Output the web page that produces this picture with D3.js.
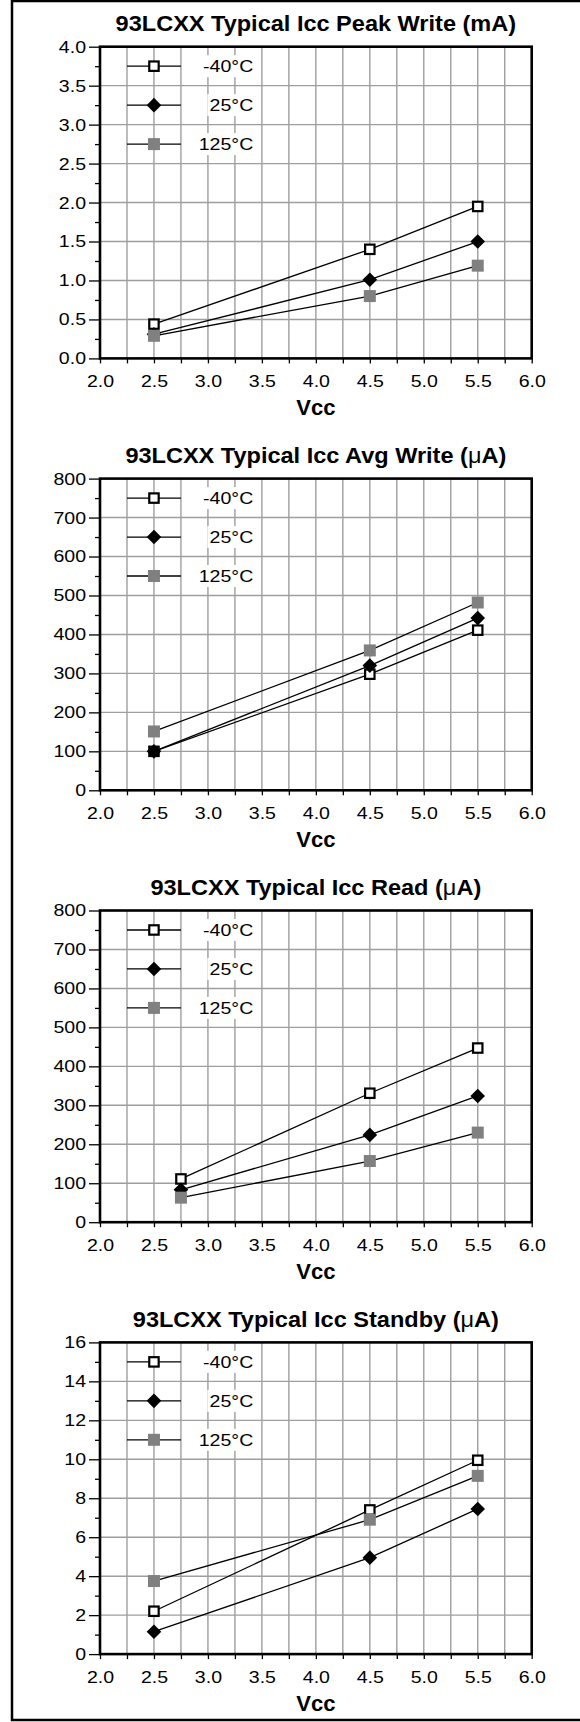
<!DOCTYPE html>
<html>
<head>
<meta charset="utf-8">
<script src="https://cdn.jsdelivr.net/npm/d3@7"></script>
<style>
  body { margin: 0; background: #fff; }
  svg { display: block; font-family: "Liberation Sans", Arial, Helvetica, sans-serif; }
</style>
</head>
<body>
<div id="chart"></div>
<script>
// ---- data ----
var seriesNames = ["-40°C", "25°C", "125°C"];

var vccTicks = [2.0, 2.5, 3.0, 3.5, 4.0, 4.5, 5.0, 5.5, 6.0];
var vccWrite = [2.5, 4.5, 5.5];
var vccRead  = [2.75, 4.5, 5.5];

var peakTitle = "93LCXX Typical Icc Peak Write (mA)";
var peakTicks = [0.0, 0.5, 1.0, 1.5, 2.0, 2.5, 3.0, 3.5, 4.0];
var peakM40   = [0.44, 1.40, 1.95];
var peak25    = [0.31, 1.01, 1.50];
var peak125   = [0.29, 0.80, 1.19];

var avgTitle = "93LCXX Typical Icc Avg Write (μA)";
var avgTicks = [0, 100, 200, 300, 400, 500, 600, 700, 800];
var avgM40   = [100, 298, 411];
var avg25    = [100, 320, 442];
var avg125   = [151, 359, 482];

var readTitle = "93LCXX Typical Icc Read (μA)";
var readTicks = [0, 100, 200, 300, 400, 500, 600, 700, 800];
var readM40   = [111, 331, 447];
var read25    = [83, 224, 324];
var read125   = [63, 157, 230];

var standbyTitle = "93LCXX Typical Icc Standby (μA)";
var standbyTicks = [0, 2, 4, 6, 8, 10, 12, 14, 16];
var standbyM40   = [2.2, 7.4, 9.95];
var standby25    = [1.15, 4.95, 7.45];
var standby125   = [3.75, 6.9, 9.15];

// ---- layout ----
var cfg = {};
cfg.left        = 100;
cfg.right       = 531.7;
cfg.top         = 46.7;
cfg.pitch       = 431.9;
cfg.height      = 311.7;
cfg.tick_font   = 17;
cfg.tick_sx     = 1.15;
cfg.title_font  = 22;
cfg.title_sx    = 1.07;
cfg.legend_rows = [15 / 16, 13 / 16, 11 / 16];
cfg.grid_color  = "#9e9e9e";

var panels = [
  { title: peakTitle,    ticks: peakTicks,    vcc: vccWrite, series: [peakM40, peak25, peak125],          fmt: d3.format(".1f") },
  { title: avgTitle,     ticks: avgTicks,     vcc: vccWrite, series: [avgM40, avg25, avg125],             fmt: d3.format("d") },
  { title: readTitle,    ticks: readTicks,    vcc: vccRead,  series: [readM40, read25, read125],          fmt: d3.format("d") },
  { title: standbyTitle, ticks: standbyTicks, vcc: vccWrite, series: [standbyM40, standby25, standby125], fmt: d3.format("d") }
];

var svg = d3.select("#chart")
  .append("svg")
  .attr("width", 580)
  .attr("height", 1722);

// outer frame (right side runs off the page in the original)
svg.append("rect")
  .attr("x", 12)
  .attr("y", 1)
  .attr("width", 640)
  .attr("height", 1719)
  .style("fill", "none")
  .style("stroke", "black")
  .style("stroke-width", 2.5);

panels.forEach(function(p, i) {
  drawPanel(p, cfg.top + i * cfg.pitch);
});

function drawMarker(sel, k) {
  if (k === 0) {
    sel.append("rect")
      .attr("x", -4.7).attr("y", -4.7)
      .attr("width", 9.4).attr("height", 9.4)
      .style("fill", "white")
      .style("stroke", "black")
      .style("stroke-width", 2.2);
  } else if (k === 1) {
    sel.append("path")
      .attr("d", "M0,-7.3L7.3,0L0,7.3L-7.3,0Z")
      .style("fill", "black");
  } else {
    sel.append("rect")
      .attr("x", -6).attr("y", -6)
      .attr("width", 12).attr("height", 12)
      .style("fill", "#808080");
  }
}

function drawPanel(p, top) {
  var x = d3.scaleLinear()
    .domain([vccTicks[0], vccTicks[vccTicks.length - 1]])
    .range([cfg.left, cfg.right]);
  var y = d3.scaleLinear()
    .domain([p.ticks[0], p.ticks[p.ticks.length - 1]])
    .range([top + cfg.height, top]);

  var xMinor = d3.pairs(vccTicks, function(a, b) { return (a + b) / 2; });
  var xAll = vccTicks.concat(xMinor).sort(d3.ascending);
  var yMinor = d3.pairs(p.ticks, function(a, b) { return (a + b) / 2; });

  var g = svg.append("g");

  // Gridlines
  g.selectAll("line.vgrid")
    .data(xAll.slice(1, -1))
    .enter()
    .append("line")
    .attr("class", "vgrid")
    .attr("x1", function(d) { return x(d); })
    .attr("x2", function(d) { return x(d); })
    .attr("y1", y.range()[0])
    .attr("y2", y.range()[1])
    .style("stroke", cfg.grid_color)
    .style("stroke-width", 1.4);

  g.selectAll("line.hgrid")
    .data(p.ticks.slice(1, -1))
    .enter()
    .append("line")
    .attr("class", "hgrid")
    .attr("x1", cfg.left)
    .attr("x2", cfg.right)
    .attr("y1", function(d) { return y(d); })
    .attr("y2", function(d) { return y(d); })
    .style("stroke", cfg.grid_color)
    .style("stroke-width", 1.4);

  // Y axis, minor then major ticks
  var yMin = g.append("g")
    .attr("transform", "translate(" + cfg.left + ",0)")
    .call(d3.axisLeft(y).tickValues(yMinor).tickSize(5).tickFormat(""));
  var yMaj = g.append("g")
    .attr("transform", "translate(" + cfg.left + ",0)")
    .call(d3.axisLeft(y).tickValues(p.ticks).tickSize(11).tickPadding(3).tickFormat(p.fmt));
  yMaj.selectAll("text")
    .attr("x", -14 / cfg.tick_sx)
    .attr("transform", "scale(" + cfg.tick_sx + ",1)");

  // X axis, labels only on the half volts
  var xAx = g.append("g")
    .attr("transform", "translate(0," + (top + cfg.height) + ")")
    .call(d3.axisBottom(x).tickValues(xAll).tickSize(5).tickPadding(12)
      .tickFormat(function(d) { return vccTicks.indexOf(d) >= 0 ? d3.format(".1f")(d) : ""; }));
  xAx.selectAll("text")
    .attr("transform", "scale(" + cfg.tick_sx + ",1)");

  [yMin, yMaj, xAx].forEach(function(a) {
    a.select(".domain").remove();
    a.attr("font-size", cfg.tick_font).attr("font-family", null);
    a.selectAll("line").style("stroke", "black").style("stroke-width", 1.3);
    a.selectAll("text").style("fill", "black");
  });

  // Plot frame
  g.append("rect")
    .attr("x", cfg.left)
    .attr("y", top)
    .attr("width", cfg.right - cfg.left)
    .attr("height", cfg.height)
    .style("fill", "none")
    .style("stroke", "black")
    .style("stroke-width", 2.6);

  // Legend
  var yMax = p.ticks[p.ticks.length - 1];
  seriesNames.forEach(function(name, k) {
    var ry = y(yMax * cfg.legend_rows[k]);
    g.append("line")
      .attr("x1", x(2.25)).attr("x2", x(2.75))
      .attr("y1", ry).attr("y2", ry)
      .style("stroke", "black")
      .style("stroke-width", 1.3);
    drawMarker(g.append("g").attr("transform", "translate(" + x(2.5) + "," + ry + ")"), k);

    var lg = g.append("g").attr("transform", "scale(" + cfg.tick_sx + ",1)");
    var t = lg.append("text")
      .attr("x", x(3.42) / cfg.tick_sx)
      .attr("y", ry + 6)
      .attr("text-anchor", "end")
      .attr("font-size", cfg.tick_font)
      .style("fill", "black")
      .text(name);
    var bb = t.node().getBBox();
    lg.insert("rect", "text")
      .attr("x", bb.x - 2)
      .attr("y", ry - 11)
      .attr("width", bb.width + 4)
      .attr("height", 22)
      .style("fill", "white");
  });

  // Data lines
  p.series.forEach(function(vals) {
    var pts = d3.zip(p.vcc, vals);
    g.append("path")
      .datum(pts)
      .attr("d", d3.line().x(function(d) { return x(d[0]); }).y(function(d) { return y(d[1]); }))
      .style("fill", "none")
      .style("stroke", "black")
      .style("stroke-width", 1.3);
  });

  // Markers
  p.series.forEach(function(vals, k) {
    g.selectAll("g.m" + k)
      .data(d3.zip(p.vcc, vals))
      .enter()
      .append("g")
      .attr("class", "m" + k)
      .attr("transform", function(d) { return "translate(" + x(d[0]) + "," + y(d[1]) + ")"; })
      .each(function() { drawMarker(d3.select(this), k); });
  });

  // Title, with the mu set in regular weight
  var parts = p.title.split("μ");
  var title = g.append("text")
    .attr("x", (cfg.left + cfg.right) / 2 / cfg.title_sx)
    .attr("y", top - 15.5)
    .attr("transform", "scale(" + cfg.title_sx + ",1)")
    .attr("text-anchor", "middle")
    .attr("font-size", cfg.title_font)
    .attr("font-weight", "bold")
    .style("fill", "black");
  title.append("tspan").text(parts[0]);
  if (parts.length > 1) {
    title.append("tspan").attr("font-weight", "normal").text("μ");
    title.append("tspan").text(parts[1]);
  }

  // Axis title
  g.append("text")
    .attr("x", (cfg.left + cfg.right) / 2)
    .attr("y", top + cfg.height + 56.5)
    .attr("text-anchor", "middle")
    .attr("font-size", cfg.title_font)
    .attr("font-weight", "bold")
    .style("fill", "black")
    .text("Vcc");
}
</script>
</body>
</html>
